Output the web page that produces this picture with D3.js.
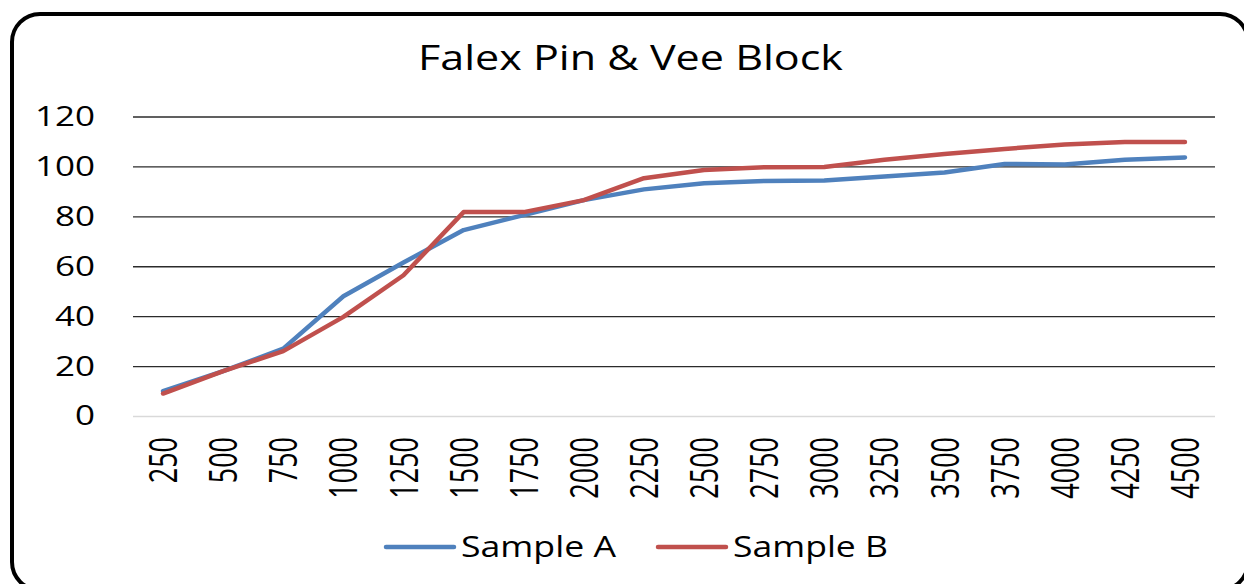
<!DOCTYPE html>
<html>
<head>
<meta charset="utf-8">
<script src="https://cdn.jsdelivr.net/npm/d3@7"></script>
<style>
  body { margin: 0; background: #fff; }
  svg text { font-family: "Open Sans", "Noto Sans", sans-serif; fill: #000; }
</style>
</head>
<body>
<div id="chart"></div>
<script>
// data
const loads = ["250", "500", "750", "1000", "1250", "1500", "1750", "2000", "2250",
  "2500", "2750", "3000", "3250", "3500", "3750", "4000", "4250", "4500"];
const sampleA = [10, 18, 27, 48, 61.5, 74.5, 80.5, 86.5, 90.8, 93.3, 94.2, 94.4, 96, 97.6, 101, 100.8, 102.7, 103.6];
const sampleB = [9, 18, 26, 39.7, 56.4, 81.7, 81.7, 86.5, 95.3, 98.6, 99.7, 99.8, 102.7, 105, 107, 108.8, 109.8, 109.8];
const yTicks = [0, 20, 40, 60, 80, 100, 120];
const seriesNames = ["Sample A", "Sample B"];
const colors = ["#4F81BD", "#C0504D"];

const W = 1244, H = 584;
const margin = { top: 116.5, right: 29, bottom: 168, left: 133 };
const width = W - margin.left - margin.right;
const height = H - margin.top - margin.bottom;

// the source picture is stretched sideways, so text gets wider than the font
const stretch = 1.45;

const svg = d3.select("#chart").append("svg")
  .attr("width", W).attr("height", H);

// rounded frame, runs off the bottom and right edge like the picture
svg.append("rect")
  .attr("x", 12).attr("y", 14)
  .attr("width", 1236).attr("height", 576)
  .attr("rx", 28).attr("ry", 28)
  .attr("fill", "#fff").attr("stroke", "#000").attr("stroke-width", 4);

svg.append("text")
  .attr("x", 418).attr("y", 70)
  .attr("textLength", 425).attr("lengthAdjust", "spacingAndGlyphs")
  .style("font-size", "35px")
  .text("Falex Pin & Vee Block");

const g = svg.append("g").attr("transform", `translate(${margin.left},${margin.top})`);

const x = d3.scaleBand().domain(loads).range([0, width]);
const y = d3.scaleLinear().domain([0, 120]).range([height, 0]);

// gridlines + y labels
const yAxis = g.append("g")
  .call(d3.axisLeft(y).tickValues(yTicks).tickSize(-width).tickPadding(38))
  .call(a => a.select(".domain").remove());
yAxis.selectAll(".tick line")
  .attr("stroke", d => d === 0 ? "#d9d9d9" : "#2b2b2b")
  .attr("stroke-width", 1.3);
yAxis.selectAll(".tick text")
  .style("font-size", "28px")
  .style("font-family", "'Open Sans', 'Noto Sans', sans-serif")
  .attr("fill", "#000")
  .attr("textLength", d => String(d).length * 20)
  .attr("lengthAdjust", "spacingAndGlyphs");

// x labels, rotated
const xAxis = g.append("g")
  .attr("transform", `translate(0,${height})`)
  .call(d3.axisBottom(x).tickSize(0))
  .call(a => a.select(".domain").remove());
xAxis.selectAll(".tick text")
  .style("font-size", "27px")
  .style("font-family", "'Open Sans', 'Noto Sans', sans-serif")
  .attr("fill", "#000")
  .attr("text-anchor", "end")
  .attr("transform", `scale(${stretch},1) rotate(-90)`)
  .attr("x", -21).attr("y", 0).attr("dy", "0.36em");

const line = d3.line()
  .x((d, i) => x(loads[i]) + x.bandwidth() / 2)
  .y(d => y(d));

[sampleA, sampleB].forEach((vals, k) => {
  g.append("path")
    .datum(vals)
    .attr("fill", "none")
    .attr("stroke", colors[k])
    .attr("stroke-width", 4.5)
    .attr("stroke-linejoin", "round")
    .attr("stroke-linecap", "round")
    .attr("d", line);
});

// legend
const legendX = [386, 658];
const legend = svg.append("g");
seriesNames.forEach((name, k) => {
  legend.append("line")
    .attr("x1", legendX[k]).attr("x2", legendX[k] + 68)
    .attr("y1", 547).attr("y2", 547)
    .attr("stroke", colors[k]).attr("stroke-width", 4.5)
    .attr("stroke-linecap", "round");
  legend.append("text")
    .attr("x", legendX[k] + 75).attr("y", 557)
    .attr("textLength", 155).attr("lengthAdjust", "spacingAndGlyphs")
    .style("font-size", "30px")
    .text(name);
});
</script>
</body>
</html>
